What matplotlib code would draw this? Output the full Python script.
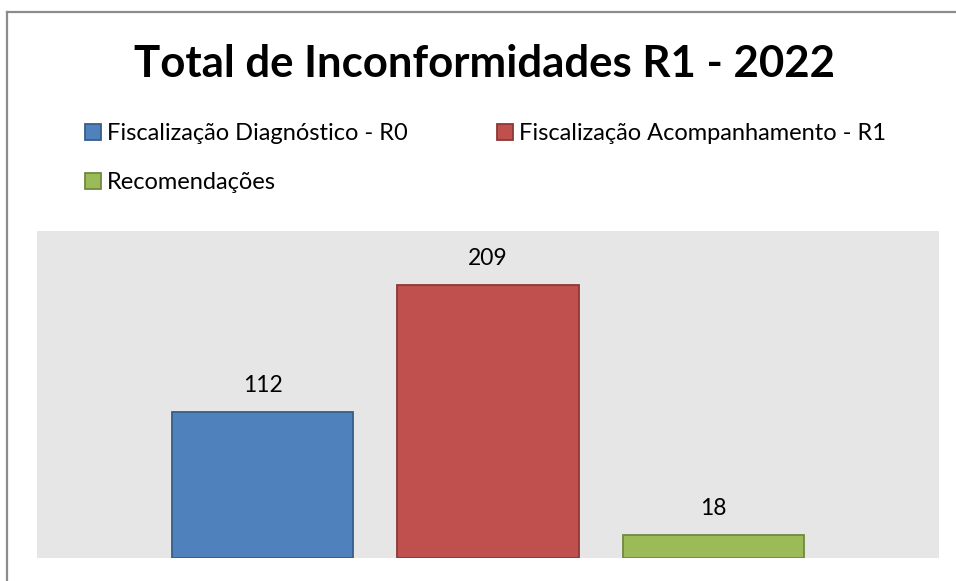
import matplotlib.pyplot as plt
from matplotlib.lines import Line2D

series = ['Fiscalização Diagnóstico - R0', 'Fiscalização Acompanhamento - R1', 'Recomendações']
values = [112, 209, 18]
colors = ['#4F81BD', '#C0504D', '#9BBB59']
edges = ['#385D8A', '#8C3836', '#71893F']

plt.rcParams['font.family'] = ['Lato', 'DejaVu Sans']

fig = plt.figure(figsize=(9.56, 5.81), dpi=100)
W, H = 956, 581

# outer frame (only top and left edges fall inside the image)
fig.add_artist(Line2D([7 / W, 7 / W], [0, 1 - 11.5 / H], transform=fig.transFigure,
                      color='#8c8c8c', lw=1.6))
fig.add_artist(Line2D([7 / W, 1], [1 - 11.5 / H, 1 - 11.5 / H], transform=fig.transFigure,
                      color='#8c8c8c', lw=1.6))

ax = fig.add_axes([37 / W, 1 - 558.3 / H, (939 - 37) / W, (558.3 - 231) / H])
ax.set_facecolor('#E6E6E6')

bars = []
for i, (name, v) in enumerate(zip(series, values)):
    b = ax.bar(i, v, width=0.805, color=colors[i], edgecolor=edges[i], linewidth=1.3, label=name)
    bars.append(b)
    ax.text(i, v + 12, str(v), ha='center', va='bottom', fontsize=16.5)

ax.set_xlim(-1, 3)
ax.set_ylim(0, 250)
ax.set_xticks([])
ax.set_yticks([])
for s in ax.spines.values():
    s.set_visible(False)

fig.text(0.5 + 6 / W, 1 - 64 / H, 'Total de Inconformidades R1 - 2022', ha='center', va='center',
         fontsize=31.5, fontweight='bold')

# row-wise order in a two-column legend
order = [0, 2, 1]
fig.legend([bars[i] for i in order], [series[i] for i in order], ncol=2,
           loc='upper left', bbox_to_anchor=(85 / W, 1 - 123 / H), frameon=False,
           borderpad=0, borderaxespad=0,
           fontsize=17, handlelength=0.68, handleheight=0.68, handletextpad=0.25,
           columnspacing=3.8, labelspacing=1.2)

fig.savefig('out.png', dpi=100, facecolor='white')
